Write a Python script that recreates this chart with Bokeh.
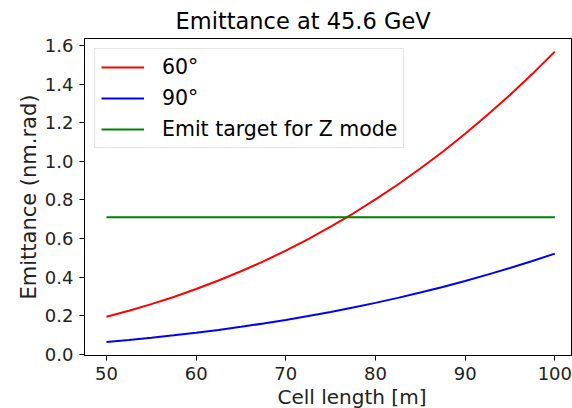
from bokeh.plotting import figure
from bokeh.models import Range1d, FixedTicker, Title, NumeralTickFormatter
from bokeh.embed import file_html
from bokeh.resources import INLINE

# Data
cell_length = [50, 52.5, 55, 57.5, 60, 62.5, 65, 67.5, 70, 72.5, 75,
               77.5, 80, 82.5, 85, 87.5, 90, 92.5, 95, 97.5, 100]
emit_60 = [0.196, 0.227, 0.261, 0.298, 0.339, 0.383, 0.431, 0.482, 0.538, 0.598, 0.662,
           0.730, 0.803, 0.880, 0.963, 1.050, 1.143, 1.241, 1.344, 1.453, 1.568]
emit_90 = [0.0653, 0.0756, 0.0869, 0.0993, 0.1128, 0.1275, 0.1435, 0.1607, 0.1792, 0.1991, 0.2204,
           0.2432, 0.2675, 0.2933, 0.3208, 0.3500, 0.3808, 0.4135, 0.4479, 0.4842, 0.5224]
target_x = [50, 100]
target_y = [0.711, 0.711]

x_ticks = [50, 60, 70, 80, 90, 100]
y_ticks = [0.0, 0.2, 0.4, 0.6, 0.8, 1.0, 1.2, 1.4, 1.6]

FONT = "DejaVu Sans"

p = figure(width=572, height=408, output_backend="svg", toolbar_location=None,
           x_range=Range1d(47.55, 101.97), y_range=Range1d(-0.005, 1.636),
           min_border_left=84, min_border_right=0, min_border_top=38, min_border_bottom=52)

# frame spines (the right one falls on the window edge, as in the reference)
p.outline_line_color = "black"
p.outline_line_width = 1
p.grid.visible = False
p.background_fill_color = "white"
p.border_fill_color = "white"

p.line(cell_length, emit_60, line_color="#ff0000", line_width=2, legend_label="60°")
p.line(cell_length, emit_90, line_color="#0000ff", line_width=2, legend_label="90°")
p.line(target_x, target_y, line_color="#008000", line_width=2, legend_label="Emit target for Z mode")

# title
p.title.text = "Emittance at 45.6 GeV"
p.title.text_font = FONT
p.title.text_font_size = "22.5px"
p.title.text_font_style = "normal"
p.title.text_color = "black"
p.title.align = "left"
p.title.offset = 91
p.title.standoff = 9

xax = p.below[0]
yax = p.left[0]

for ax in (xax, yax):
    ax.axis_line_color = "black"
    ax.axis_line_width = 1
    ax.major_tick_line_color = "black"
    ax.major_tick_out = 5
    ax.major_tick_in = 0
    ax.minor_tick_line_color = None
    ax.major_label_text_font = FONT
    ax.major_label_text_font_size = "18px"
    ax.major_label_text_color = "#222222"

xax.ticker = FixedTicker(ticks=x_ticks)
xax.major_label_standoff = 6
yax.ticker = FixedTicker(ticks=y_ticks)
yax.formatter = NumeralTickFormatter(format="0.0")
yax.major_label_standoff = 6
yax.axis_label = "Emittance (nm.rad)"
yax.axis_label_text_font = FONT
yax.axis_label_text_font_size = "21px"
yax.axis_label_text_font_style = "normal"
yax.axis_label_text_color = "#222222"
yax.axis_label_standoff = 1

xlab = Title(text="Cell length  [m]", align="left", offset=193, text_font=FONT,
             text_font_size="20px", text_font_style="normal", text_color="#222222", standoff=0)
p.add_layout(xlab, "below")

lg = p.legend[0]
lg.location = "top_left"
lg.margin = 10
lg.padding = 6
lg.spacing = 7
lg.glyph_width = 43
lg.glyph_height = 20
lg.label_standoff = 18
lg.label_text_font = FONT
lg.label_text_font_size = "20.5px"
lg.label_text_color = "black"
lg.border_line_color = "#cccccc"
lg.border_line_width = 1
lg.background_fill_alpha = 0.8

open("out.html", "w").write(file_html(p, INLINE))
